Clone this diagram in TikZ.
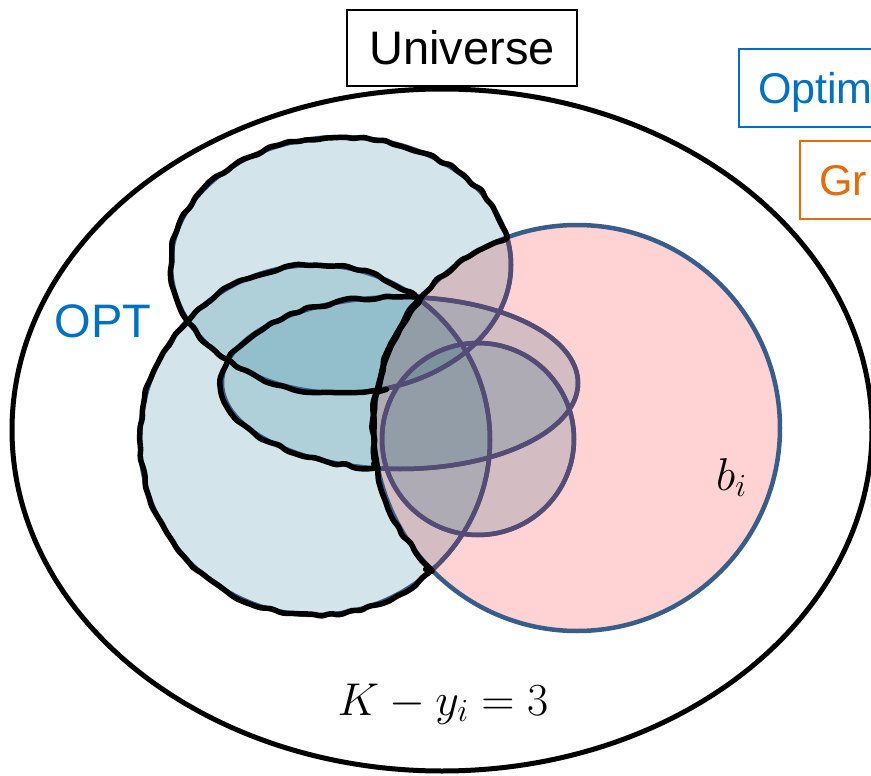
\RequirePackage{fix-cm}
\documentclass[tikz,border=0pt]{standalone}
\usepackage{fontspec}
\setmainfont{Liberation Sans}
\usetikzlibrary{decorations.pathmorphing}
\definecolor{setfill}{RGB}{35,125,150}
\definecolor{setline}{RGB}{56,93,138}
\definecolor{innerline}{RGB}{84,76,116}
\definecolor{pinkfill}{RGB}{255,210,212}
\definecolor{optblue}{RGB}{0,112,192}
\definecolor{grorange}{RGB}{228,108,10}
\begin{document}
\begin{tikzpicture}[x=1pt,y=-1pt,
  setshape/.style={fill=setfill, fill opacity=0.2, draw=setline, line width=4.5pt},
  hand/.style={draw=black, line width=5.5pt, line join=round, line cap=round,
    decorate, decoration={random steps, segment length=10pt, amplitude=2pt}, rounded corners=3pt},
  bigtext/.style={font=\fontsize{47}{56}\selectfont},
  midtext/.style={font=\fontsize{43}{50}\selectfont},
  mathtext/.style={font=\fontsize{46}{54}\selectfont},
  legendbox/.style={anchor=north west, line width=2pt, minimum height=78pt, text width=200pt,
    inner xsep=19pt, align=left, text depth=0pt, midtext}]
\clip (0,0) rectangle (871,776);
\pgfmathsetseed{11}
% sets of OPT
\filldraw[setshape] (341,265) ellipse [x radius=170, y radius=128];
\filldraw[setshape] (315,440) circle [radius=175];
\filldraw[setshape] (400,383) ellipse [x radius=178, y radius=86];
\filldraw[setshape] (478,439) circle [radius=96];
% b_i
\fill[pinkfill, blend mode=multiply] (577,428) circle [radius=203];
\begin{scope}
  \clip (577,428) circle [radius=203];
  \draw[innerline, line width=4.5pt] (341,265) ellipse [x radius=170, y radius=128];
  \draw[innerline, line width=4.5pt] (315,440) circle [radius=175];
  \draw[innerline, line width=4.5pt] (400,383) ellipse [x radius=178, y radius=86];
  \draw[innerline, line width=4.5pt] (478,439) circle [radius=96];
\end{scope}
\draw[setline, line width=4.5pt] (577,428) circle [radius=203];
% hand-drawn outlines of the parts outside b_i
\draw[hand] ([shift={(341,265)}]77.6:170 and 128)
  arc[start angle=77.6, end angle=347.6, x radius=170, y radius=128]
  arc[start angle=249.8, end angle=190.8, radius=203] -- cycle;
\draw[hand] ([shift={(400,383)}]97.1:178 and 86)
  arc[start angle=97.1, end angle=276.9, x radius=178, y radius=86]
  arc[start angle=220.0, end angle=168.6, radius=203] -- cycle;
\draw[hand] ([shift={(315,440)}]48.0:175 and 175)
  arc[start angle=48.0, end angle=306.7, radius=175]
  arc[start angle=219.2, end angle=135.6, radius=203] -- cycle;
% universe
\draw[line width=5pt] (442,430) ellipse [x radius=430, y radius=341];
% labels
\node[draw=black, line width=1.5pt, minimum width=230pt, minimum height=76pt, bigtext] (universe) at (462,48) {Universe};
\node[legendbox, draw=optblue, text=optblue] (optim) at (738,48) {Optim};
\node[legendbox, draw=grorange, text=grorange] (greedy) at (799,140) {Gr};
\node[bigtext, text=optblue] (opt) at (103,321) {OPT};
\node[mathtext, anchor=base] (kform) at (443,715) {$K-y_i=3$};
\node[mathtext, anchor=base west, inner sep=0pt] (bi) at (716,490) {$b_i$};
\end{tikzpicture}
\end{document}
